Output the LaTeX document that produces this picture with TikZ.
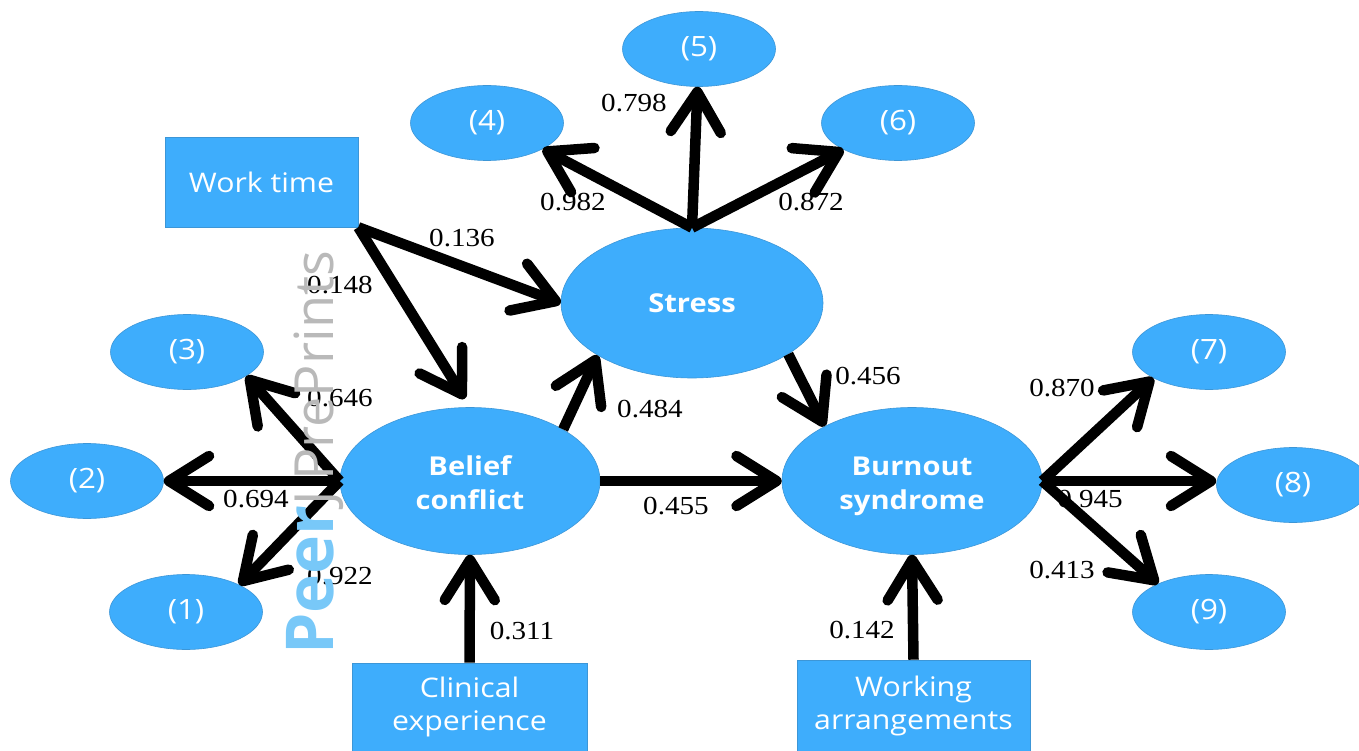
\documentclass[tikz,border=0pt]{standalone}
\usepackage{fontspec}
\setmainfont{Open Sans}[FakeStretch=1.12]
\newfontfamily\numfont{Liberation Serif}[FakeStretch=1.12]
\newfontfamily\wmfont{Open Sans}
\usetikzlibrary{shapes.geometric,arrows.meta}
\definecolor{nodeblue}{RGB}{62,173,252}
\definecolor{edgeblue}{RGB}{60,150,215}
\definecolor{wmblue}{RGB}{120,200,248}
\definecolor{wmgray}{RGB}{185,185,185}
\tikzset{
  ell/.style={ellipse, fill=nodeblue, draw=edgeblue, line width=0.6pt, inner sep=0pt,
    text=white, align=center, font=\fontsize{28}{32}\selectfont},
  small/.style={ell, minimum width=153pt, minimum height=75pt},
  big/.style={ell, minimum width=260pt, minimum height=147pt,
    font=\bfseries\fontsize{26}{34}\selectfont},
  box/.style={rectangle, fill=nodeblue, draw=edgeblue, line width=0.6pt, inner sep=0pt,
    text=white, align=center, font=\fontsize{27}{33}\selectfont},
  arr/.style={line width=10.5pt, -{Straight Barb[length=40pt,width=50pt,round]}},
  lbl/.style={inner sep=0pt, font=\numfont\fontsize{26}{26}\selectfont}
}
\begin{document}
\begin{tikzpicture}[x=1pt,y=-1pt]
\useasboundingbox (0,0) rectangle (1359,751);
\clip (0,0) rectangle (1359,751);
% nodes
\node[small] (n5) at (699,49) {(5)};
\node[small] (n4) at (487,123) {(4)};
\node[small] (n6) at (898,123) {(6)};
\node[box, minimum width=193pt, minimum height=90pt] (wt) at (261.5,182) {Work time};
\node[big, minimum width=262pt, minimum height=150pt] (stress) at (692,303) {Stress};
\node[small] (n3) at (187,352) {(3)};
\node[small] (n2) at (87,481) {(2)};
\node[small] (n1) at (186,612) {(1)};
\node[big] (bc) at (470,481) {\rule{0pt}{23pt}Belief\\conflict};
\node[big] (bs) at (912,481) {\rule{0pt}{30pt}Burnout\\syndrome};
\node[small] (n7) at (1209,352) {(7)};
\node[small] (n8) at (1293,485) {(8)};
\node[small] (n9) at (1209,612) {(9)};
\node[box, minimum width=235pt, minimum height=88pt] (ce) at (469.5,707) {Clinical\\experience};
\node[box, minimum width=233pt, minimum height=91pt] (wa) at (913.5,705.5) {Working\\arrangements};
% connectors
\draw[arr] (stress.north) -- (n5);
\draw[arr] (stress.north) -- (n4.-25);
\draw[arr] (stress.north) -- (n6.206);
\draw[arr] (wt.south east) -- (stress.west);
\draw[arr, shorten >=10pt] (wt.south east) -- (bc.north);
\draw[arr] (bc.29) -- (stress.209);
\draw[arr] (stress.-28) -- (bs.148);
\draw[arr] (bc.east) -- (bs.west);
\draw[arr] (ce.north) -- (bc.south);
\draw[arr] (wa.north) -- (bs.south);
\draw[arr] (bc.west) -- (n3.-22);
\draw[arr] (bc.west) -- (n2.east);
\draw[arr] (bc.west) -- (n1.27);
\draw[arr] (bs.east) -- (n7.205);
\draw[arr] (bs.east) -- (n8.west |- bs.east);
\draw[arr] (bs.east) -- (n9.151);
% labels
\node[lbl] (l798) at (634,103) {0.798};
\node[lbl] (l982) at (573,202) {0.982};
\node[lbl] (l872) at (811,202) {0.872};
\node[lbl] (l136) at (462,238) {0.136};
\node[lbl] (l148) at (340,285) {0.148};
\node[lbl] (l646) at (340,398) {0.646};
\node[lbl] (l694) at (256,499) {0.694};
\node[lbl] (l922) at (340,576) {0.922};
\node[lbl] (l484) at (650,409) {0.484};
\node[lbl] (l456) at (868,376) {0.456};
\node[lbl] (l455) at (676,506) {0.455};
\node[lbl] (l311) at (522,631) {0.311};
\node[lbl] (l142) at (862,630) {0.142};
\node[lbl] (l870) at (1062,388) {0.870};
\node[lbl] (l945) at (1090,499) {0.945};
\node[lbl] (l413) at (1062,570) {0.413};
% watermark
\node[rotate=90, anchor=base west, inner sep=0pt] (wm) at (333,655)
  {\wmfont{\color{wmblue}\fontsize{66}{66}\selectfont\bfseries Peer}{\color{wmgray}\fontsize{54}{54}\selectfont J\kern10pt PrePrints}};
\end{tikzpicture}
\end{document}
